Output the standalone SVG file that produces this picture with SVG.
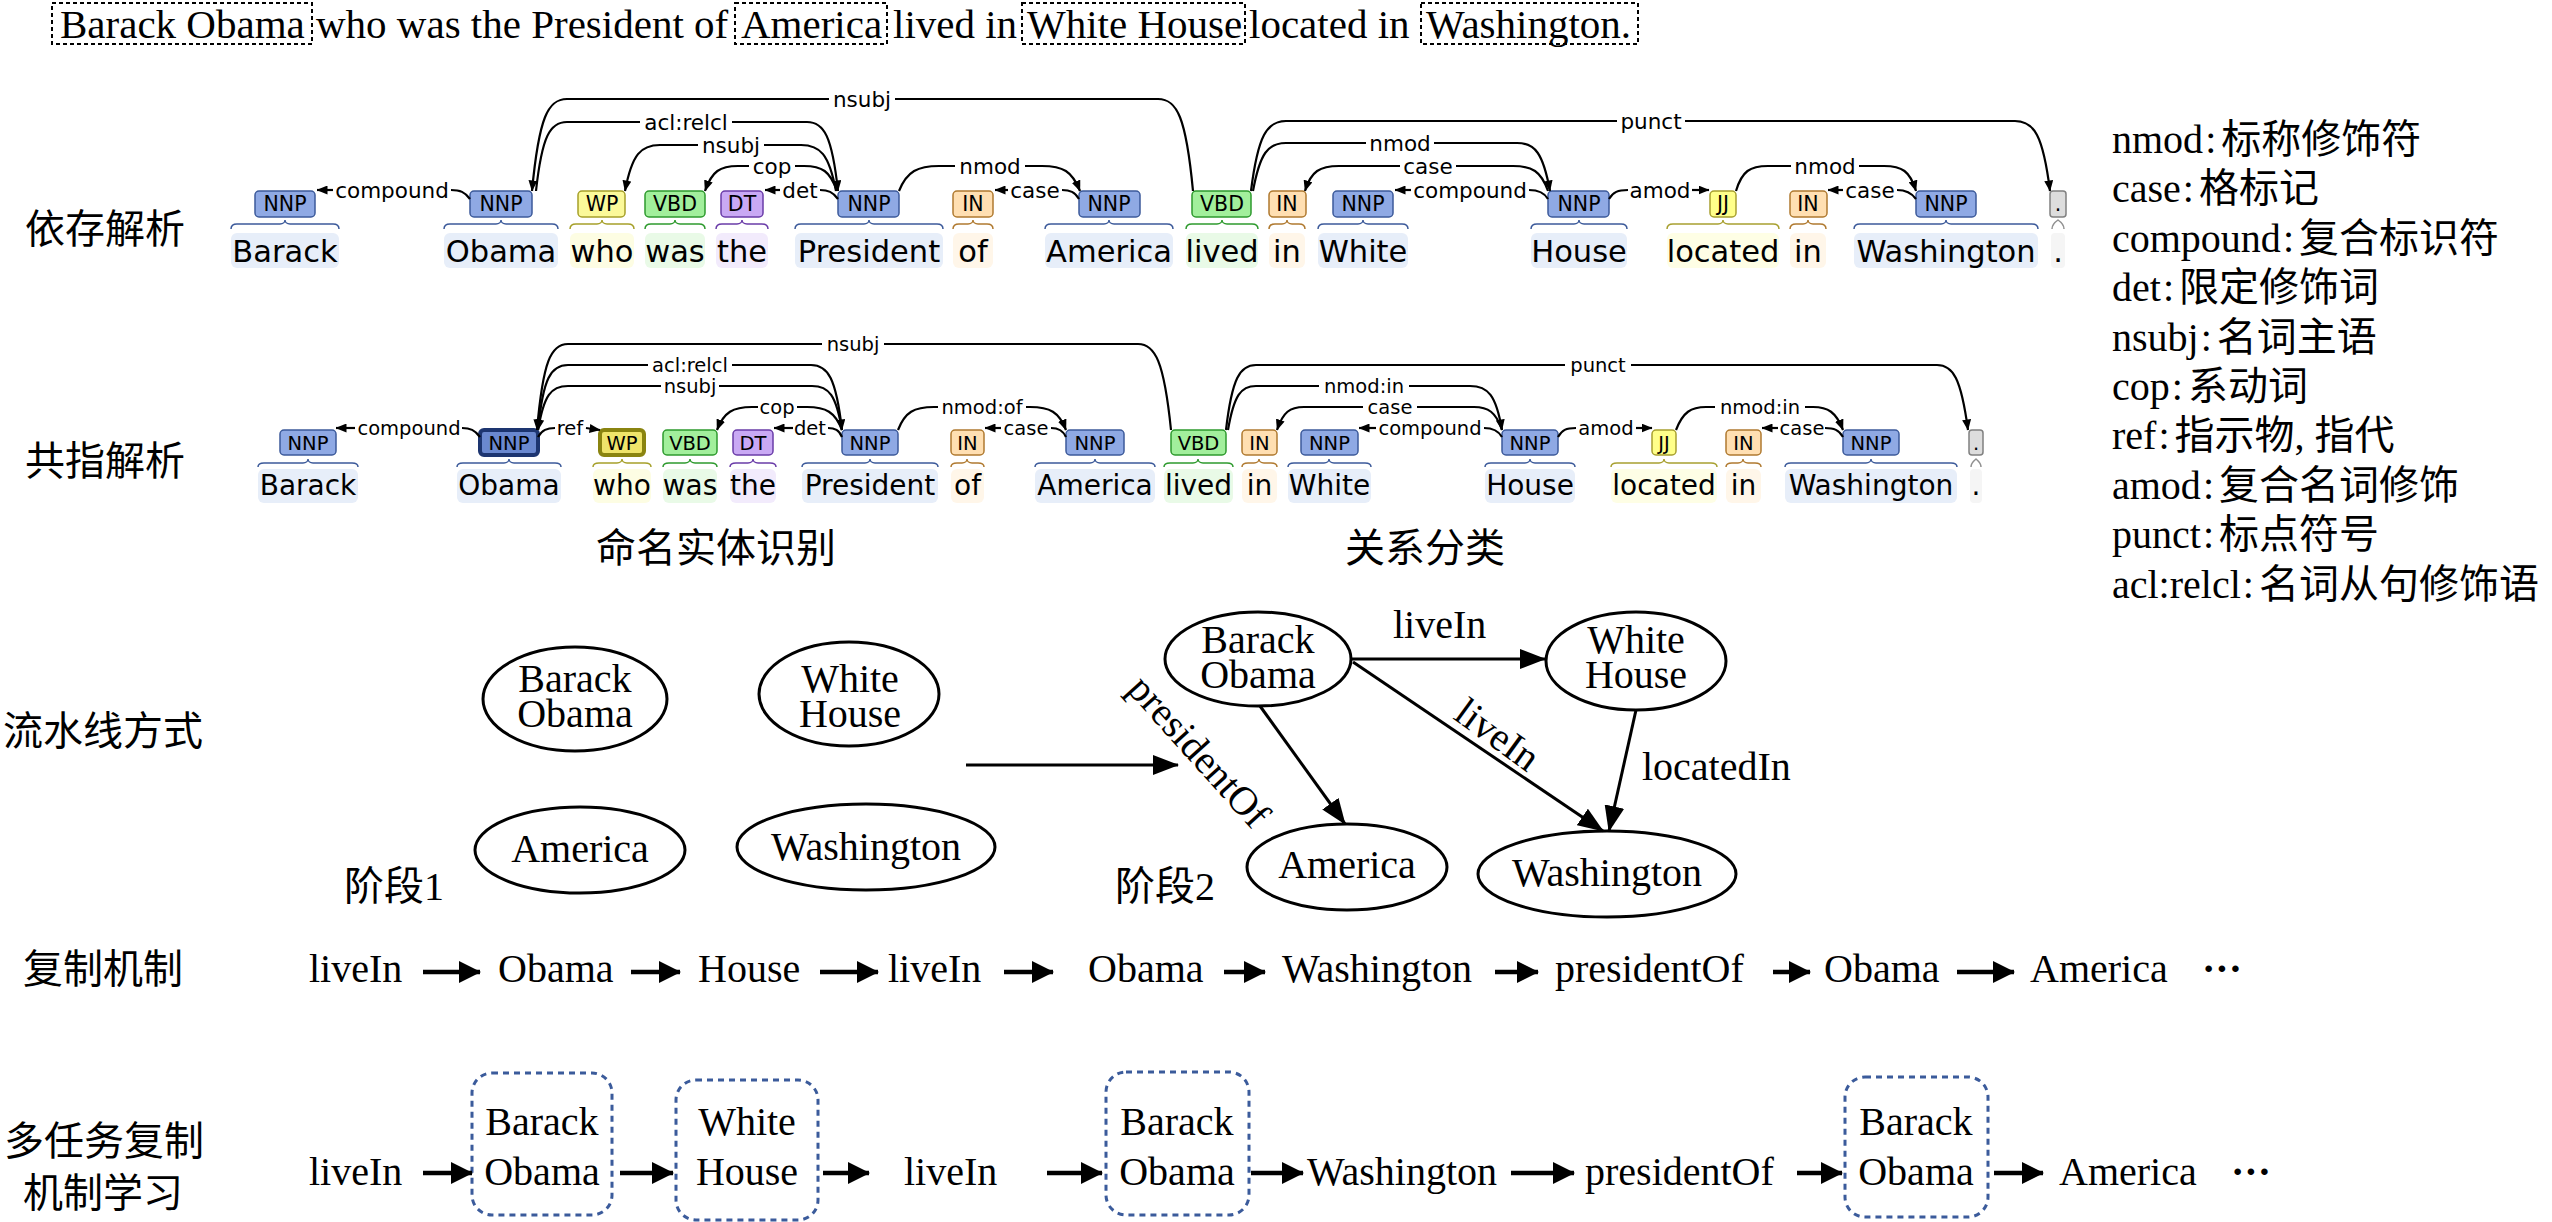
<svg xmlns="http://www.w3.org/2000/svg" width="2552" height="1222" viewBox="0 0 2552 1222">
<style>
.tag{stroke-width:1.5}
.nnp{fill:#8fa9e4;stroke:#3c5a9a}
.nnpd{fill:#6a88cf;stroke:#1d3570;stroke-width:4}
.wp{fill:#fbf99a;stroke:#a6a02a}
.wpd{fill:#efe46a;stroke:#8a8410;stroke-width:4}
.vbd{fill:#a2ef9c;stroke:#2e9a2e}
.dt{fill:#c9a9f4;stroke:#6a3ca8}
.in{fill:#ffdfb2;stroke:#b07a30}
.jj{fill:#ffff8a;stroke:#a8a030}
.pu{fill:#dddddd;stroke:#808080}
.bn{fill:#e7eef9}.bwp{fill:#fdfde3}.bvbd{fill:#e9fae7}.bdt{fill:#f2ebfc}.bin{fill:#fff6e9}.bjj{fill:#fefee5}.bpu{fill:#f5f5f5}
.br{fill:none;stroke-width:1.5}
.sn{stroke:#3c5a9a}.swp{stroke:#a6a02a}.svbd{stroke:#2e9a2e}.sdt{stroke:#6a3ca8}.sin{stroke:#b07a30}.sjj{stroke:#a8a030}.spu{stroke:#909090}
.tt{font-family:"DejaVu Sans",sans-serif;text-anchor:middle;fill:#000}
.t1{font-size:20.5px}.w1{font-size:30.5px}.t2{font-size:19.5px}.w2{font-size:28px}
.arc{fill:none;stroke:#000;stroke-width:2.2}
.lab{font-family:"DejaVu Sans",sans-serif;text-anchor:middle;fill:#000}
.l1{font-size:21.5px}.l2{font-size:19.5px}
.ser{font-family:"Liberation Serif","Noto Sans CJK SC",serif;fill:#000}
.cjk{font-family:"Noto Sans CJK SC","Liberation Serif",sans-serif;fill:#000;font-size:40px}
.f40{font-size:40px}
.dot{fill:none;stroke:#000;stroke-width:2;stroke-dasharray:4 3}
.el{fill:#fff;stroke:#000;stroke-width:3}
.ln{fill:none;stroke:#000;stroke-width:3}
.cp{fill:none;stroke:#000;stroke-width:4.5}
.bx{fill:none;stroke:#3b5b9b;stroke-width:3;stroke-dasharray:6 5}
.mid{text-anchor:middle}
</style>
<defs>
<marker id="a" markerUnits="userSpaceOnUse" markerWidth="11" markerHeight="9" viewBox="0 0 11 9" refX="10.5" refY="4.5" orient="auto"><path d="M0,0 L11,4.5 L0,9 z" fill="#000"/></marker>
<marker id="b" markerUnits="userSpaceOnUse" markerWidth="26" markerHeight="20" viewBox="0 0 26 20" refX="25" refY="10" orient="auto"><path d="M0,0 L26,10 L0,20 z" fill="#000"/></marker>
<marker id="c" markerUnits="userSpaceOnUse" markerWidth="22" markerHeight="22" viewBox="0 0 22 22" refX="21" refY="11" orient="auto"><path d="M0,0 L22,11 L0,22 z" fill="#000"/></marker>
</defs>
<rect width="2552" height="1222" fill="#fff"/>

<!-- top sentence -->
<g id="sentence" class="ser" font-size="41">
<rect class="dot" x="52" y="3" width="260" height="41"/>
<rect class="dot" x="735" y="3" width="152" height="41"/>
<rect class="dot" x="1022" y="3" width="223" height="41"/>
<rect class="dot" x="1421" y="3" width="217" height="41"/>
<text x="60" y="38">Barack Obama</text>
<text x="316" y="38">who was the President of</text>
<text x="741" y="38">America</text>
<text x="893" y="38">lived in</text>
<text x="1027" y="38">White House</text>
<text x="1249" y="38">located in</text>
<text x="1426" y="38">Washington.</text>
</g>

<!-- left labels -->
<g id="row-labels">
<text class="cjk" x="25" y="243">依存解析</text>
<text class="cjk" x="25" y="475">共指解析</text>
<text class="cjk" x="596" y="562">命名实体识别</text>
<text class="cjk" x="1345" y="562">关系分类</text>
<text class="cjk" x="3" y="745">流水线方式</text>
<text class="cjk" x="23" y="983">复制机制</text>
<text class="cjk" x="4" y="1155">多任务复制</text>
<text class="cjk" x="23" y="1207">机制学习</text>
<text class="cjk" x="344" y="900">阶段<tspan font-family="Liberation Serif">1</tspan></text>
<text class="cjk" x="1115" y="900">阶段<tspan font-family="Liberation Serif">2</tspan></text>
</g>

<!-- legend -->
<g id="legend" class="ser f40">
<text x="2112" y="153">nmod<tspan dx="2">:</tspan><tspan dx="5">标称修饰符</tspan></text>
<text x="2112" y="202">case<tspan dx="2">:</tspan><tspan dx="5">格标记</tspan></text>
<text x="2112" y="252">compound<tspan dx="2">:</tspan><tspan dx="5">复合标识符</tspan></text>
<text x="2112" y="301">det<tspan dx="2">:</tspan><tspan dx="5">限定修饰词</tspan></text>
<text x="2112" y="351">nsubj<tspan dx="2">:</tspan><tspan dx="5">名词主语</tspan></text>
<text x="2112" y="400">cop<tspan dx="2">:</tspan><tspan dx="5">系动词</tspan></text>
<text x="2112" y="449">ref<tspan dx="2">:</tspan><tspan dx="5">指示物, 指代</tspan></text>
<text x="2112" y="499">amod<tspan dx="2">:</tspan><tspan dx="5">复合名词修饰</tspan></text>
<text x="2112" y="548">punct<tspan dx="2">:</tspan><tspan dx="5">标点符号</tspan></text>
<text x="2112" y="598">acl:relcl<tspan dx="2">:</tspan><tspan dx="5">名词从句修饰语</tspan></text>
</g>

<!-- ROW 1 tokens -->
<g id="d01"><rect class="bn" x="231" y="233" width="108" height="35" rx="6"/><path class="br sn" d="M231,229 C231,225 233,224 237,224 L280,224 C283,224 285,222 285,220 C285,222 287,224 290,224 L333,224 C337,224 339,225 339,229"/><rect class="tag nnp" x="255" y="191" width="60" height="26" rx="4"/><text class="tt t1" x="285" y="210.5">NNP</text><text class="tt w1" x="285" y="262">Barack</text></g>
<g id="d02"><rect class="bn" x="444" y="233" width="114" height="35" rx="6"/><path class="br sn" d="M444,229 C444,225 446,224 450,224 L496,224 C499,224 501,222 501,220 C501,222 503,224 506,224 L552,224 C556,224 558,225 558,229"/><rect class="tag nnp" x="470" y="191" width="62" height="26" rx="4"/><text class="tt t1" x="501" y="210.5">NNP</text><text class="tt w1" x="501" y="262">Obama</text></g>
<g id="d03"><rect class="bwp" x="570" y="233" width="64" height="35" rx="6"/><path class="br swp" d="M570,229 C570,225 572,224 576,224 L597,224 C600,224 602,222 602,220 C602,222 604,224 607,224 L628,224 C632,224 634,225 634,229"/><rect class="tag wp" x="578" y="191" width="47" height="26" rx="4"/><text class="tt t1" x="602" y="210.5">WP</text><text class="tt w1" x="602" y="262">who</text></g>
<g id="d04"><rect class="bvbd" x="645" y="233" width="60" height="35" rx="6"/><path class="br svbd" d="M645,229 C645,225 647,224 651,224 L670,224 C673,224 675,222 675,220 C675,222 677,224 680,224 L699,224 C703,224 705,225 705,229"/><rect class="tag vbd" x="645" y="191" width="60" height="26" rx="4"/><text class="tt t1" x="675" y="210.5">VBD</text><text class="tt w1" x="675" y="262">was</text></g>
<g id="d05"><rect class="bdt" x="716" y="233" width="52" height="35" rx="6"/><path class="br sdt" d="M716,229 C716,225 718,224 722,224 L737,224 C740,224 742,222 742,220 C742,222 744,224 747,224 L762,224 C766,224 768,225 768,229"/><rect class="tag dt" x="721" y="191" width="42" height="26" rx="4"/><text class="tt t1" x="742" y="210.5">DT</text><text class="tt w1" x="742" y="262">the</text></g>
<g id="d06"><rect class="bn" x="795" y="233" width="148" height="35" rx="6"/><path class="br sn" d="M795,229 C795,225 797,224 801,224 L864,224 C867,224 869,222 869,220 C869,222 871,224 874,224 L937,224 C941,224 943,225 943,229"/><rect class="tag nnp" x="838" y="191" width="61" height="26" rx="4"/><text class="tt t1" x="869" y="210.5">NNP</text><text class="tt w1" x="869" y="262">President</text></g>
<g id="d07"><rect class="bin" x="953" y="233" width="40" height="35" rx="6"/><path class="br sin" d="M953,229 C953,225 955,224 959,224 L968,224 C971,224 973,222 973,220 C973,222 975,224 978,224 L987,224 C991,224 993,225 993,229"/><rect class="tag in" x="953" y="191" width="40" height="26" rx="4"/><text class="tt t1" x="973" y="210.5">IN</text><text class="tt w1" x="973" y="262">of</text></g>
<g id="d08"><rect class="bn" x="1045" y="233" width="128" height="35" rx="6"/><path class="br sn" d="M1045,229 C1045,225 1047,224 1051,224 L1104,224 C1107,224 1109,222 1109,220 C1109,222 1111,224 1114,224 L1167,224 C1171,224 1173,225 1173,229"/><rect class="tag nnp" x="1079" y="191" width="61" height="26" rx="4"/><text class="tt t1" x="1109" y="210.5">NNP</text><text class="tt w1" x="1109" y="262">America</text></g>
<g id="d09"><rect class="bvbd" x="1186" y="233" width="72" height="35" rx="6"/><path class="br svbd" d="M1186,229 C1186,225 1188,224 1192,224 L1217,224 C1220,224 1222,222 1222,220 C1222,222 1224,224 1227,224 L1252,224 C1256,224 1258,225 1258,229"/><rect class="tag vbd" x="1192" y="191" width="59" height="26" rx="4"/><text class="tt t1" x="1222" y="210.5">VBD</text><text class="tt w1" x="1222" y="262">lived</text></g>
<g id="d10"><rect class="bin" x="1269" y="233" width="36" height="35" rx="6"/><path class="br sin" d="M1269,229 C1269,225 1271,224 1275,224 L1282,224 C1285,224 1287,222 1287,220 C1287,222 1289,224 1292,224 L1299,224 C1303,224 1305,225 1305,229"/><rect class="tag in" x="1269" y="191" width="37" height="26" rx="4"/><text class="tt t1" x="1287" y="210.5">IN</text><text class="tt w1" x="1287" y="262">in</text></g>
<g id="d11"><rect class="bn" x="1318" y="233" width="90" height="35" rx="6"/><path class="br sn" d="M1318,229 C1318,225 1320,224 1324,224 L1358,224 C1361,224 1363,222 1363,220 C1363,222 1365,224 1368,224 L1402,224 C1406,224 1408,225 1408,229"/><rect class="tag nnp" x="1333" y="191" width="60" height="26" rx="4"/><text class="tt t1" x="1363" y="210.5">NNP</text><text class="tt w1" x="1363" y="262">White</text></g>
<g id="d12"><rect class="bn" x="1531" y="233" width="96" height="35" rx="6"/><path class="br sn" d="M1531,229 C1531,225 1533,224 1537,224 L1574,224 C1577,224 1579,222 1579,220 C1579,222 1581,224 1584,224 L1621,224 C1625,224 1627,225 1627,229"/><rect class="tag nnp" x="1548" y="191" width="61" height="26" rx="4"/><text class="tt t1" x="1579" y="210.5">NNP</text><text class="tt w1" x="1579" y="262">House</text></g>
<g id="d13"><rect class="bjj" x="1667" y="233" width="112" height="35" rx="6"/><path class="br sjj" d="M1667,229 C1667,225 1669,224 1673,224 L1718,224 C1721,224 1723,222 1723,220 C1723,222 1725,224 1728,224 L1773,224 C1777,224 1779,225 1779,229"/><rect class="tag jj" x="1710" y="191" width="26" height="26" rx="4"/><text class="tt t1" x="1723" y="210.5">JJ</text><text class="tt w1" x="1723" y="262">located</text></g>
<g id="d14"><rect class="bin" x="1790" y="233" width="36" height="35" rx="6"/><path class="br sin" d="M1790,229 C1790,225 1792,224 1796,224 L1803,224 C1806,224 1808,222 1808,220 C1808,222 1810,224 1813,224 L1820,224 C1824,224 1826,225 1826,229"/><rect class="tag in" x="1790" y="191" width="37" height="26" rx="4"/><text class="tt t1" x="1808" y="210.5">IN</text><text class="tt w1" x="1808" y="262">in</text></g>
<g id="d15"><rect class="bn" x="1854" y="233" width="184" height="35" rx="6"/><path class="br sn" d="M1854,229 C1854,225 1856,224 1860,224 L1941,224 C1944,224 1946,222 1946,220 C1946,222 1948,224 1951,224 L2032,224 C2036,224 2038,225 2038,229"/><rect class="tag nnp" x="1916" y="191" width="60" height="26" rx="4"/><text class="tt t1" x="1946" y="210.5">NNP</text><text class="tt w1" x="1946" y="262">Washington</text></g>
<g id="d16"><rect class="bpu" x="2051" y="233" width="14" height="35" rx="4"/><path class="br spu" d="M2052,229 Q2052,224 2058,220 Q2064,224 2064,229"/><rect class="tag pu" x="2050" y="191" width="16" height="26" rx="3"/><text class="tt t1" x="2058" y="210.5">.</text><text class="tt w1" x="2058" y="262">.</text></g>

<!-- ROW 1 arcs -->
<g id="dep-arcs">
<path class="arc" marker-end="url(#a)" d="M829,99 L567,99 C548,99 539,117 532,191"/>
<path class="arc" d="M895,99 L1158,99 C1177,99 1186,117 1193,191"/>
<text class="lab l1" x="862" y="106.5">nsubj</text>
<path class="arc" d="M640,122 L567,122 C550,122 542,136 536,191"/>
<path class="arc" marker-end="url(#a)" d="M732,122 L807,122 C824,122 832,136 838,191"/>
<text class="lab l1" x="686" y="129.5">acl:relcl</text>
<path class="arc" marker-end="url(#a)" d="M698,145 L660,145 C641,145 632,154 625,191"/>
<path class="arc" d="M764,145 L801,145 C820,145 829,154 836,191"/>
<text class="lab l1" x="731" y="152.5">nsubj</text>
<path class="arc" marker-end="url(#a)" d="M749,166 L738,166 C720,166 712,171 705,191"/>
<path class="arc" d="M795,166 L804,166 C822,166 830,171 837,191"/>
<text class="lab l1" x="772" y="173.5">cop</text>
<path class="arc" marker-end="url(#a)" d="M780,190 L765,190"/>
<path class="arc" d="M820,190 C828,190 833,192 838,199"/>
<text class="lab l1" x="800" y="197.5">det</text>
<path class="arc" d="M955,166 L939,166 C918,166 907,171 899,191"/>
<path class="arc" marker-end="url(#a)" d="M1025,166 L1042,166 C1063,166 1072,171 1080,191"/>
<text class="lab l1" x="990" y="173.5">nmod</text>
<path class="arc" marker-end="url(#a)" d="M1008,190 L995,190"/>
<path class="arc" d="M1062,190 C1070,190 1075,192 1079,199"/>
<text class="lab l1" x="1035" y="197.5">case</text>
<path class="arc" marker-end="url(#a)" d="M333,190 L317,190"/>
<path class="arc" d="M451,190 C460,190 465,192 470,199"/>
<text class="lab l1" x="392" y="197.5">compound</text>
<path class="arc" d="M1617,121 L1286,121 C1267,121 1258,135 1251,191"/>
<path class="arc" marker-end="url(#a)" d="M1685,121 L2015,121 C2034,121 2043,135 2050,191"/>
<text class="lab l1" x="1651" y="128.5">punct</text>
<path class="arc" d="M1366,143 L1286,143 C1268,143 1260,153 1253,191"/>
<path class="arc" marker-end="url(#a)" d="M1434,143 L1517,143 C1535,143 1543,153 1550,191"/>
<text class="lab l1" x="1400" y="150.5">nmod</text>
<path class="arc" marker-end="url(#a)" d="M1400,166 L1339,166 C1320,166 1311,171 1305,191"/>
<path class="arc" d="M1456,166 L1513,166 C1532,166 1541,171 1548,191"/>
<text class="lab l1" x="1428" y="173.5">case</text>
<path class="arc" marker-end="url(#a)" d="M1411,190 L1395,190"/>
<path class="arc" d="M1529,190 C1538,190 1544,192 1548,199"/>
<text class="lab l1" x="1470" y="197.5">compound</text>
<path class="arc" d="M1609,199 C1613,192 1618,190 1628,190"/>
<path class="arc" marker-end="url(#a)" d="M1692,190 L1709,190"/>
<text class="lab l1" x="1660" y="197.5">amod</text>
<path class="arc" d="M1791,166 L1768,166 C1750,166 1742,171 1736,191"/>
<path class="arc" marker-end="url(#a)" d="M1859,166 L1884,166 C1902,166 1910,171 1916,191"/>
<text class="lab l1" x="1825" y="173.5">nmod</text>
<path class="arc" marker-end="url(#a)" d="M1843,190 L1828,190"/>
<path class="arc" d="M1897,190 C1905,190 1911,192 1916,199"/>
<text class="lab l1" x="1870" y="197.5">case</text>
</g>

<!-- ROW 2 tokens -->
<g id="c01"><rect class="bn" x="258" y="469" width="100" height="34" rx="6"/><path class="br sn" d="M258,467 C258,464 260,463 264,463 L303,463 C306,463 308,461 308,459 C308,461 310,463 313,463 L352,463 C356,463 358,464 358,467"/><rect class="tag nnp" x="280" y="430" width="56" height="25" rx="4"/><text class="tt t2" x="308" y="449.5">NNP</text><text class="tt w2" x="308" y="495">Barack</text></g>
<g id="c02"><rect class="bn" x="457" y="469" width="104" height="34" rx="6"/><path class="br sn" d="M457,467 C457,464 459,463 463,463 L504,463 C507,463 509,461 509,459 C509,461 511,463 514,463 L555,463 C559,463 561,464 561,467"/><rect class="tag nnpd" x="480" y="430" width="58" height="25" rx="4"/><text class="tt t2" x="509" y="449.5">NNP</text><text class="tt w2" x="509" y="495">Obama</text></g>
<g id="c03"><rect class="bwp" x="593" y="469" width="58" height="34" rx="6"/><path class="br swp" d="M593,467 C593,464 595,463 599,463 L617,463 C620,463 622,461 622,459 C622,461 624,463 627,463 L645,463 C649,463 651,464 651,467"/><rect class="tag wpd" x="600" y="430" width="44" height="25" rx="4"/><text class="tt t2" x="622" y="449.5">WP</text><text class="tt w2" x="622" y="495">who</text></g>
<g id="c04"><rect class="bvbd" x="663" y="469" width="54" height="34" rx="6"/><path class="br svbd" d="M663,467 C663,464 665,463 669,463 L685,463 C688,463 690,461 690,459 C690,461 692,463 695,463 L711,463 C715,463 717,464 717,467"/><rect class="tag vbd" x="663" y="430" width="54" height="25" rx="4"/><text class="tt t2" x="690" y="449.5">VBD</text><text class="tt w2" x="690" y="495">was</text></g>
<g id="c05"><rect class="bdt" x="730" y="469" width="46" height="34" rx="6"/><path class="br sdt" d="M730,467 C730,464 732,463 736,463 L748,463 C751,463 753,461 753,459 C753,461 755,463 758,463 L770,463 C774,463 776,464 776,467"/><rect class="tag dt" x="733" y="430" width="40" height="25" rx="4"/><text class="tt t2" x="753" y="449.5">DT</text><text class="tt w2" x="753" y="495">the</text></g>
<g id="c06"><rect class="bn" x="802" y="469" width="136" height="34" rx="6"/><path class="br sn" d="M802,467 C802,464 804,463 808,463 L865,463 C868,463 870,461 870,459 C870,461 872,463 875,463 L932,463 C936,463 938,464 938,467"/><rect class="tag nnp" x="842" y="430" width="56" height="25" rx="4"/><text class="tt t2" x="870" y="449.5">NNP</text><text class="tt w2" x="870" y="495">President</text></g>
<g id="c07"><rect class="bin" x="951" y="469" width="33" height="34" rx="6"/><path class="br sin" d="M951,467 C951,464 953,463 957,463 L962,463 C965,463 967,461 967,459 C967,461 969,463 972,463 L978,463 C982,463 984,464 984,467"/><rect class="tag in" x="951" y="430" width="33" height="25" rx="4"/><text class="tt t2" x="967.5" y="449.5">IN</text><text class="tt w2" x="967.5" y="495">of</text></g>
<g id="c08"><rect class="bn" x="1035" y="469" width="120" height="34" rx="6"/><path class="br sn" d="M1035,467 C1035,464 1037,463 1041,463 L1090,463 C1093,463 1095,461 1095,459 C1095,461 1097,463 1100,463 L1149,463 C1153,463 1155,464 1155,467"/><rect class="tag nnp" x="1066" y="430" width="58" height="25" rx="4"/><text class="tt t2" x="1095" y="449.5">NNP</text><text class="tt w2" x="1095" y="495">America</text></g>
<g id="c09"><rect class="bvbd" x="1164" y="469" width="69" height="34" rx="6"/><path class="br svbd" d="M1164,467 C1164,464 1166,463 1170,463 L1193,463 C1196,463 1198,461 1198,459 C1198,461 1200,463 1203,463 L1227,463 C1231,463 1233,464 1233,467"/><rect class="tag vbd" x="1171" y="430" width="55" height="25" rx="4"/><text class="tt t2" x="1198.5" y="449.5">VBD</text><text class="tt w2" x="1198.5" y="495">lived</text></g>
<g id="c10"><rect class="bin" x="1242" y="469" width="35" height="34" rx="6"/><path class="br sin" d="M1242,467 C1242,464 1244,463 1248,463 L1254,463 C1257,463 1259,461 1259,459 C1259,461 1261,463 1264,463 L1271,463 C1275,463 1277,464 1277,467"/><rect class="tag in" x="1242" y="430" width="35" height="25" rx="4"/><text class="tt t2" x="1259.5" y="449.5">IN</text><text class="tt w2" x="1259.5" y="495">in</text></g>
<g id="c11"><rect class="bn" x="1288" y="469" width="83" height="34" rx="6"/><path class="br sn" d="M1288,467 C1288,464 1290,463 1294,463 L1324,463 C1327,463 1329,461 1329,459 C1329,461 1331,463 1334,463 L1365,463 C1369,463 1371,464 1371,467"/><rect class="tag nnp" x="1301" y="430" width="57" height="25" rx="4"/><text class="tt t2" x="1329.5" y="449.5">NNP</text><text class="tt w2" x="1329.5" y="495">White</text></g>
<g id="c12"><rect class="bn" x="1485" y="469" width="90" height="34" rx="6"/><path class="br sn" d="M1485,467 C1485,464 1487,463 1491,463 L1525,463 C1528,463 1530,461 1530,459 C1530,461 1532,463 1535,463 L1569,463 C1573,463 1575,464 1575,467"/><rect class="tag nnp" x="1502" y="430" width="56" height="25" rx="4"/><text class="tt t2" x="1530" y="449.5">NNP</text><text class="tt w2" x="1530" y="495">House</text></g>
<g id="c13"><rect class="bjj" x="1611" y="469" width="106" height="34" rx="6"/><path class="br sjj" d="M1611,467 C1611,464 1613,463 1617,463 L1659,463 C1662,463 1664,461 1664,459 C1664,461 1666,463 1669,463 L1711,463 C1715,463 1717,464 1717,467"/><rect class="tag jj" x="1652" y="430" width="24" height="25" rx="4"/><text class="tt t2" x="1664" y="449.5">JJ</text><text class="tt w2" x="1664" y="495">located</text></g>
<g id="c14"><rect class="bin" x="1726" y="469" width="35" height="34" rx="6"/><path class="br sin" d="M1726,467 C1726,464 1728,463 1732,463 L1738,463 C1741,463 1743,461 1743,459 C1743,461 1745,463 1748,463 L1755,463 C1759,463 1761,464 1761,467"/><rect class="tag in" x="1726" y="430" width="35" height="25" rx="4"/><text class="tt t2" x="1743.5" y="449.5">IN</text><text class="tt w2" x="1743.5" y="495">in</text></g>
<g id="c15"><rect class="bn" x="1785" y="469" width="172" height="34" rx="6"/><path class="br sn" d="M1785,467 C1785,464 1787,463 1791,463 L1866,463 C1869,463 1871,461 1871,459 C1871,461 1873,463 1876,463 L1951,463 C1955,463 1957,464 1957,467"/><rect class="tag nnp" x="1843" y="430" width="56" height="25" rx="4"/><text class="tt t2" x="1871" y="449.5">NNP</text><text class="tt w2" x="1871" y="495">Washington</text></g>
<g id="c16"><rect class="bpu" x="1970" y="469" width="12" height="34" rx="4"/><path class="br spu" d="M1971,467 Q1971,463 1976,459 Q1981,463 1981,467"/><rect class="tag pu" x="1969" y="430" width="14" height="25" rx="3"/><text class="tt t2" x="1976" y="449.5">.</text><text class="tt w2" x="1976" y="495">.</text></g>

<!-- ROW 2 arcs -->
<g id="coref-arcs">
<path class="arc" marker-end="url(#a)" d="M822,344 L568,344 C551,344 543,361 537,430"/>
<path class="arc" d="M884,344 L1138,344 C1155,344 1164,361 1171,430"/>
<text class="lab l2" x="853" y="351">nsubj</text>
<path class="arc" d="M648,365 L568,365 C551,365 543,378 538,430"/>
<path class="arc" marker-end="url(#a)" d="M732,365 L811,365 C828,365 836,378 842,430"/>
<text class="lab l2" x="690" y="372">acl:relcl</text>
<path class="arc" marker-end="url(#a)" d="M661,386 L568,386 C551,386 544,395 538,430"/>
<path class="arc" d="M719,386 L812,386 C829,386 836,395 842,430"/>
<text class="lab l2" x="690" y="393">nsubj</text>
<path class="arc" d="M538,437 C542,430 547,428 555,428"/>
<path class="arc" marker-end="url(#a)" d="M586,428 L600,430"/>
<text class="lab l2" x="570" y="435">ref</text>
<path class="arc" marker-end="url(#a)" d="M758,407 L752,407 C733,407 724,412 717,430"/>
<path class="arc" d="M797,407 L807,407 C826,407 835,412 842,430"/>
<text class="lab l2" x="777" y="414">cop</text>
<path class="arc" marker-end="url(#a)" d="M793,428 L774,428"/>
<path class="arc" d="M828,428 C835,428 839,430 842,437"/>
<text class="lab l2" x="810" y="435">det</text>
<path class="arc" d="M938,407 L934,407 C914,407 905,412 898,430"/>
<path class="arc" marker-end="url(#a)" d="M1026,407 L1030,407 C1050,407 1059,412 1066,430"/>
<text class="lab l2" x="982" y="414">nmod:of</text>
<path class="arc" marker-end="url(#a)" d="M1001,428 L985,428"/>
<path class="arc" d="M1051,428 C1058,428 1063,430 1066,437"/>
<text class="lab l2" x="1026" y="435">case</text>
<path class="arc" marker-end="url(#a)" d="M355,428 L336,428"/>
<path class="arc" d="M462,428 C470,428 475,430 480,437"/>
<text class="lab l2" x="409" y="435">compound</text>
<path class="arc" d="M1565,365 L1256,365 C1240,365 1232,378 1226,430"/>
<path class="arc" marker-end="url(#a)" d="M1631,365 L1937,365 C1953,365 1961,378 1968,430"/>
<text class="lab l2" x="1598" y="372">punct</text>
<path class="arc" d="M1319,386 L1256,386 C1241,386 1234,395 1228,430"/>
<path class="arc" marker-end="url(#a)" d="M1409,386 L1470,386 C1488,386 1496,395 1502,430"/>
<text class="lab l2" x="1364" y="393">nmod:in</text>
<path class="arc" marker-end="url(#a)" d="M1363,407 L1304,407 C1290,407 1283,412 1277,430"/>
<path class="arc" d="M1417,407 L1474,407 C1488,407 1496,412 1502,430"/>
<text class="lab l2" x="1390" y="414">case</text>
<path class="arc" marker-end="url(#a)" d="M1376,428 L1359,428"/>
<path class="arc" d="M1484,428 C1492,428 1498,430 1502,437"/>
<text class="lab l2" x="1430" y="435">compound</text>
<path class="arc" d="M1558,437 C1562,430 1566,428 1576,428"/>
<path class="arc" marker-end="url(#a)" d="M1636,428 L1652,428"/>
<text class="lab l2" x="1606" y="435">amod</text>
<path class="arc" d="M1715,407 L1706,407 C1691,407 1683,412 1676,430"/>
<path class="arc" marker-end="url(#a)" d="M1805,407 L1813,407 C1828,407 1836,412 1843,430"/>
<text class="lab l2" x="1760" y="414">nmod:in</text>
<path class="arc" marker-end="url(#a)" d="M1778,428 L1762,428"/>
<path class="arc" d="M1825,428 C1834,428 1839,430 1843,437"/>
<text class="lab l2" x="1802" y="435">case</text>
</g>

<!-- Pipeline stage 1 -->
<g id="s1-obama"><ellipse class="el" cx="575" cy="699" rx="92" ry="52"/><text class="ser f40 mid" x="575" y="692">Barack</text><text class="ser f40 mid" x="575" y="727">Obama</text></g>
<g id="s1-white"><ellipse class="el" cx="849" cy="694" rx="90" ry="52"/><text class="ser f40 mid" x="850" y="692">White</text><text class="ser f40 mid" x="850" y="727">House</text></g>
<g id="s1-america"><ellipse class="el" cx="580" cy="850" rx="105" ry="43"/><text class="ser f40 mid" x="580" y="862">America</text></g>
<g id="s1-washington"><ellipse class="el" cx="866" cy="847" rx="129" ry="43"/><text class="ser f40 mid" x="866" y="860">Washington</text></g>

<!-- Pipeline stage 2 -->
<g id="s2-obama"><ellipse class="el" cx="1258" cy="659" rx="93" ry="47"/><text class="ser f40 mid" x="1258" y="653">Barack</text><text class="ser f40 mid" x="1258" y="688">Obama</text></g>
<g id="s2-white"><ellipse class="el" cx="1636" cy="661" rx="90" ry="49"/><text class="ser f40 mid" x="1636" y="653">White</text><text class="ser f40 mid" x="1636" y="688">House</text></g>
<g id="s2-america"><ellipse class="el" cx="1347" cy="867" rx="100" ry="43"/><text class="ser f40 mid" x="1347" y="878">America</text></g>
<g id="s2-washington"><ellipse class="el" cx="1607" cy="874" rx="129" ry="43"/><text class="ser f40 mid" x="1607" y="886">Washington</text></g>

<g id="pipeline-edges">
<path class="ln" marker-end="url(#b)" d="M966,765 L1178,765"/>
<path class="ln" marker-end="url(#b)" d="M1351,659 L1545,659"/>
<path class="ln" marker-end="url(#b)" d="M1260,706 L1345,824"/>
<path class="ln" marker-end="url(#b)" d="M1353,662 L1603,831"/>
<path class="ln" marker-end="url(#b)" d="M1636,710 L1609,831"/>
<text class="ser f40" x="1393" y="638">liveIn</text>
<text class="ser f40" transform="translate(1452,718) rotate(36)">liveIn</text>
<text class="ser f40" transform="translate(1126,690) rotate(48)">presidentOf</text>
<text class="ser f40" x="1642" y="780">locatedIn</text>
</g>

<!-- copy mechanism row -->
<g id="copy-tokens" class="ser f40">
<text x="309" y="982">liveIn</text>
<text x="498" y="982">Obama</text>
<text x="698" y="982">House</text>
<text x="888" y="982">liveIn</text>
<text x="1088" y="982">Obama</text>
<text x="1282" y="982">Washington</text>
<text x="1555" y="982">presidentOf</text>
<text x="1824" y="982">Obama</text>
<text x="2030" y="982">America</text>
<text x="2202" y="982" font-weight="bold">···</text>
</g>
<g id="copy-arrows">
<path class="cp" marker-end="url(#c)" d="M423,972 L480,972"/>
<path class="cp" marker-end="url(#c)" d="M631,972 L680,972"/>
<path class="cp" marker-end="url(#c)" d="M820,972 L878,972"/>
<path class="cp" marker-end="url(#c)" d="M1004,972 L1053,972"/>
<path class="cp" marker-end="url(#c)" d="M1224,972 L1265,972"/>
<path class="cp" marker-end="url(#c)" d="M1495,972 L1538,972"/>
<path class="cp" marker-end="url(#c)" d="M1773,972 L1810,972"/>
<path class="cp" marker-end="url(#c)" d="M1957,972 L2014,972"/>
</g>

<!-- multi-task copy row -->
<g id="mt-box1"><rect class="bx" x="472" y="1073" width="140" height="142" rx="20"/><text class="ser f40 mid" x="542" y="1135">Barack</text><text class="ser f40 mid" x="542" y="1185">Obama</text></g>
<g id="mt-box2"><rect class="bx" x="676" y="1080" width="142" height="140" rx="20"/><text class="ser f40 mid" x="747" y="1135">White</text><text class="ser f40 mid" x="747" y="1185">House</text></g>
<g id="mt-box3"><rect class="bx" x="1106" y="1072" width="143" height="143" rx="20"/><text class="ser f40 mid" x="1177" y="1135">Barack</text><text class="ser f40 mid" x="1177" y="1185">Obama</text></g>
<g id="mt-box4"><rect class="bx" x="1845" y="1077" width="143" height="140" rx="20"/><text class="ser f40 mid" x="1916" y="1135">Barack</text><text class="ser f40 mid" x="1916" y="1185">Obama</text></g>
<g id="mt-tokens" class="ser f40">
<text x="309" y="1185">liveIn</text>
<text x="904" y="1185">liveIn</text>
<text x="1307" y="1185">Washington</text>
<text x="1585" y="1185">presidentOf</text>
<text x="2059" y="1185">America</text>
<text x="2231" y="1185" font-weight="bold">···</text>
</g>
<g id="mt-arrows">
<path class="cp" marker-end="url(#c)" d="M423,1173 L472,1173"/>
<path class="cp" marker-end="url(#c)" d="M620,1173 L673,1173"/>
<path class="cp" marker-end="url(#c)" d="M823,1173 L869,1173"/>
<path class="cp" marker-end="url(#c)" d="M1047,1173 L1102,1173"/>
<path class="cp" marker-end="url(#c)" d="M1251,1173 L1303,1173"/>
<path class="cp" marker-end="url(#c)" d="M1511,1173 L1574,1173"/>
<path class="cp" marker-end="url(#c)" d="M1797,1173 L1842,1173"/>
<path class="cp" marker-end="url(#c)" d="M1994,1173 L2043,1173"/>
</g>
</svg>
